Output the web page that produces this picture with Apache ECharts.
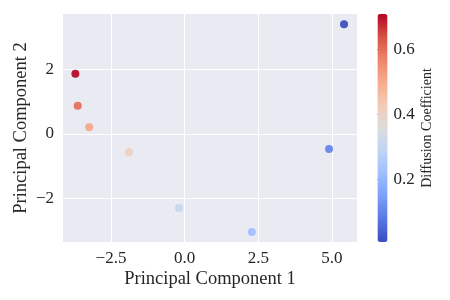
<!DOCTYPE html>
<html><head><meta charset="utf-8">
<script src="https://cdn.jsdelivr.net/npm/echarts@6/dist/echarts.min.js"></script>
<style>html,body{margin:0;padding:0;background:#fff}#c{width:450px;height:300px}</style>
</head><body><div id="c"></div>
<script>
const pc1 = [5.41, -3.71, -3.63, -3.24, -1.89, -0.19, 2.28, 4.90];
const pc2 = [3.39, 1.86, 0.87, 0.20, -0.57, -2.30, -3.04, -0.47];
const diffusion = [0.008, 0.709, 0.60, 0.51, 0.41, 0.30, 0.22, 0.10];
const xTicks = [-2.5, 0, 2.5, 5];
const yTicks = [-2, 0, 2];
const cbTicks = [0.2, 0.4, 0.6];
const coolwarm = ['#3b4cc0','#5977e3','#7b9ff9','#9ebeff','#c0d4f5','#dddcdc','#f2cbb7','#f7ac8e','#ee8468','#d65244','#b40426'];

const FONT = 'Liberation Serif';
const TXT = '#262626';
const data = pc1.map((x, i) => [x, pc2[i], diffusion[i]]);
const cbMin = Math.min(...diffusion), cbMax = Math.max(...diffusion);

const chart = echarts.init(document.getElementById('c'), null, {renderer: 'canvas'});
chart.setOption({
  animation: false,
  backgroundColor: '#ffffff',
  textStyle: {fontFamily: FONT, color: TXT},
  grid: [
    {left: 63, right: 93, top: 14, bottom: 58, show: true, backgroundColor: '#eaeaf2', borderWidth: 0},
    {left: 377.5, width: 10, top: 14, bottom: 58, show: false}
  ],
  xAxis: [{
    type: 'value', gridIndex: 0, min: -4.13, max: 5.85,
    axisLine: {show: false},
    axisTick: {show: false, customValues: xTicks},
    axisLabel: {customValues: xTicks, fontFamily: FONT, fontSize: 17, color: TXT, margin: 8,
      formatter: v => (v < 0 ? '\u2212' : '') + Math.abs(v).toFixed(1)},
    splitLine: {show: true, lineStyle: {color: '#ffffff', width: 1}},
    name: 'Principal Component 1', nameLocation: 'middle', nameGap: 28, nameMoveOverlap: false,
    nameTextStyle: {fontFamily: FONT, fontSize: 18.5, color: TXT}
  }, {
    type: 'value', gridIndex: 1, show: false, min: 0, max: 1
  }],
  yAxis: [{
    type: 'value', gridIndex: 0, min: -3.35, max: 3.71,
    axisLine: {show: false},
    axisTick: {show: false, customValues: yTicks},
    axisLabel: {customValues: yTicks, fontFamily: FONT, fontSize: 17, color: TXT, margin: 9,
      formatter: v => (v < 0 ? '\u2212' : '') + Math.abs(v)},
    splitLine: {show: true, lineStyle: {color: '#ffffff', width: 1}},
    name: 'Principal Component 2', nameLocation: 'middle', nameGap: 32, nameMoveOverlap: false,
    nameTextStyle: {fontFamily: FONT, fontSize: 18.5, color: TXT}
  }, {
    type: 'value', gridIndex: 1, position: 'right', min: cbMin, max: cbMax,
    axisLine: {show: true, lineStyle: {color: 'rgba(0,0,0,0)'}},
    axisTick: {show: true, inside: false, length: 5, customValues: cbTicks, lineStyle: {color: TXT, width: 1}},
    axisLabel: {customValues: cbTicks, fontFamily: FONT, fontSize: 17, color: TXT, margin: 6,
      formatter: v => v.toFixed(1)},
    splitLine: {show: false},
    name: 'Diffusion Coefficient', nameLocation: 'middle', nameGap: 33, nameRotate: 90, nameMoveOverlap: false,
    nameTextStyle: {fontFamily: FONT, fontSize: 14, color: TXT}
  }],
  visualMap: {
    type: 'continuous', min: cbMin, max: cbMax, dimension: 2, seriesIndex: 0,
    calculable: false, realtime: false, text: null, showLabel: false,
    itemWidth: 10, itemHeight: 228, left: 377.5, top: 14, padding: 0,
    inRange: {color: coolwarm}
  },
  series: [{
    type: 'scatter', xAxisIndex: 0, yAxisIndex: 0, data: data,
    symbolSize: 8, itemStyle: {opacity: 0.92}
  }]
});
</script></body></html>
